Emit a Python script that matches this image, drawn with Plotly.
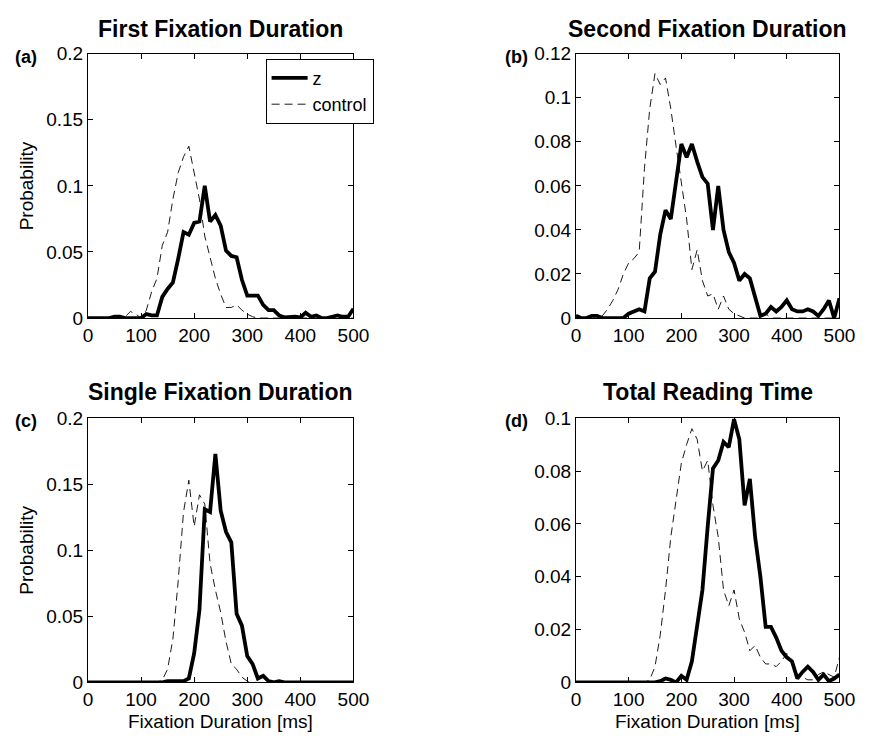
import plotly.graph_objects as go

# ---------------- data ----------------
durations = [0, 10, 20, 30, 40, 50, 60, 70, 80, 90, 100, 110, 120, 130, 140, 150, 160, 170, 180, 190,
             200, 210, 220, 230, 240, 250, 260, 270, 280, 290, 300, 310, 320, 330, 340, 350, 360, 370,
             380, 390, 400, 410, 420, 430, 440, 450, 460, 470, 480, 490, 500]

z_first = [0, 0, 0, 0, 0, 0.001, 0.001, 0, 0, 0, 0, 0.003, 0.002, 0.002, 0.016, 0.022, 0.027, 0.045,
           0.065, 0.063, 0.072, 0.073, 0.1, 0.073, 0.078, 0.07, 0.051, 0.047, 0.046, 0.029, 0.017,
           0.017, 0.017, 0.01, 0.006, 0.006, 0.002, 0.0005, 0.001, 0.001, 0.0005, 0.004, 0.001, 0.002,
           0, 0, 0.001, 0.002, 0.001, 0.001, 0.007]
control_first = [0, 0, 0, 0, 0, 0, 0, 0.001, 0.005, 0.003, 0, 0.006, 0.02, 0.03, 0.055, 0.065, 0.09,
                 0.11, 0.122, 0.13, 0.11, 0.09, 0.062, 0.045, 0.03, 0.018, 0.008, 0.008, 0.01, 0.006,
                 0.003, 0.001, 0, 0, 0, 0, 0, 0, 0, 0, 0, 0, 0, 0, 0, 0, 0, 0, 0, 0, 0]

z_second = [0.001, 0, 0, 0.001, 0.001, 0, 0, 0, 0, 0, 0.002, 0.003, 0.004, 0.003, 0.018, 0.021, 0.038,
            0.049, 0.045, 0.062, 0.079, 0.073, 0.079, 0.071, 0.064, 0.061, 0.04, 0.06, 0.04, 0.03,
            0.025, 0.017, 0.02, 0.018, 0.009, 0.001, 0.002, 0.005, 0.003, 0.005, 0.008, 0.004, 0.003,
            0.003, 0.004, 0.003, 0.001, 0.004, 0.008, 0, 0.009]
control_second = [0, 0, 0, 0, 0, 0.001, 0.004, 0.008, 0.013, 0.02, 0.025, 0.027, 0.03, 0.068, 0.095,
                  0.111, 0.106, 0.109, 0.095, 0.078, 0.062, 0.045, 0.022, 0.031, 0.017, 0.01, 0.011,
                  0.004, 0.01, 0.004, 0.002, 0.001, 0, 0, 0, 0, 0.002, 0, 0, 0, 0, 0, 0, 0, 0, 0, 0,
                  0, 0, 0, 0]

z_single = [0, 0, 0, 0, 0, 0, 0, 0, 0, 0, 0, 0, 0, 0, 0, 0.001, 0.001, 0.001, 0.001, 0.003, 0.022,
            0.055, 0.131, 0.129, 0.173, 0.13, 0.114, 0.106, 0.052, 0.043, 0.02, 0.014, 0.003, 0.005,
            0.001, 0, 0.001, 0, 0, 0, 0, 0, 0, 0, 0, 0, 0, 0, 0, 0, 0]
control_single = [0, 0, 0, 0, 0, 0, 0, 0, 0, 0, 0, 0, 0, 0, 0.002, 0.01, 0.033, 0.077, 0.129, 0.153,
                  0.118, 0.142, 0.135, 0.09, 0.07, 0.053, 0.031, 0.014, 0.01, 0.004, 0.001, 0, 0, 0,
                  0, 0, 0, 0, 0, 0, 0, 0, 0, 0, 0, 0, 0, 0, 0, 0, 0]

z_total = [0, 0, 0, 0, 0, 0, 0, 0, 0, 0, 0, 0, 0, 0, 0, 0, 0.0005, 0.0015, 0.001, 0, 0.0025, 0.001,
           0.008, 0.021, 0.035, 0.059, 0.081, 0.084, 0.091, 0.089, 0.0996, 0.092, 0.067, 0.077, 0.055,
           0.04, 0.021, 0.021, 0.017, 0.012, 0.0095, 0.008, 0.0015, 0.004, 0.006, 0.004, 0.001, 0.003,
           0.0005, 0.0015, 0.003]
control_total = [0, 0, 0, 0, 0, 0, 0, 0, 0, 0, 0, 0, 0, 0, 0.001, 0.006, 0.018, 0.035, 0.055, 0.07,
                 0.083, 0.09, 0.096, 0.092, 0.08, 0.084, 0.067, 0.055, 0.035, 0.029, 0.035, 0.024,
                 0.019, 0.012, 0.014, 0.0095, 0.007, 0.007, 0.006, 0.008, 0.011, 0.007, 0.003, 0.002,
                 0.001, 0.001, 0.003, 0.004, 0.003, 0.002, 0.0095]

titles = ["First Fixation Duration", "Second Fixation Duration",
          "Single Fixation Duration", "Total Reading Time"]
panel_labels = ["(a)", "(b)", "(c)", "(d)"]
y_maxes = [0.2, 0.12, 0.2, 0.1]
y_ticks = [[0, 0.05, 0.1, 0.15, 0.2],
           [0, 0.02, 0.04, 0.06, 0.08, 0.1, 0.12],
           [0, 0.05, 0.1, 0.15, 0.2],
           [0, 0.02, 0.04, 0.06, 0.08, 0.1]]
x_ticks = [0, 100, 200, 300, 400, 500]
series = [(z_first, control_first), (z_second, control_second),
          (z_single, control_single), (z_total, control_total)]

# ---------------- layout geometry (pixels) ----------------
W, H = 874, 744
FONT = "Liberation Sans, Arial, Helvetica, sans-serif"
boxes = [(85, 357, 45, 317), (585, 855, 45, 317), (85, 357, 420, 692), (585, 855, 420, 692)]
title_y = [20, 20, 393, 393]
TICK = 19

fig = go.Figure()
layout = dict(width=W, height=H, margin=dict(l=0, r=0, t=0, b=0),
              paper_bgcolor="white", plot_bgcolor="white",
              font=dict(family=FONT, size=TICK, color="black"),
              showlegend=True)
annotations = []

for i, ((x0, x1, y0, y1), (zv, cv)) in enumerate(zip(boxes, series)):
    n = "" if i == 0 else str(i + 1)
    xa, ya = "x" + n, "y" + n
    fig.add_trace(go.Scatter(x=durations, y=zv, mode="lines", name="z",
                             line=dict(color="black", width=3.8),
                             xaxis=xa, yaxis=ya, showlegend=(i == 0)))
    fig.add_trace(go.Scatter(x=durations, y=cv, mode="lines", name="control",
                             line=dict(color="black", width=0.9, dash="8px,5px"),
                             xaxis=xa, yaxis=ya, showlegend=(i == 0)))
    axcommon = dict(showline=True, linecolor="black", linewidth=1, mirror="ticks",
                    ticks="inside", ticklen=5, tickcolor="black", tickwidth=1,
                    showgrid=False, zeroline=False,
                    tickfont=dict(family=FONT, size=TICK, color="black"))
    layout["xaxis" + n] = dict(axcommon, domain=[x0 / W, x1 / W], anchor=ya,
                               range=[0, 500], tickvals=x_ticks,
                               ticktext=[str(t) for t in x_ticks])
    layout["yaxis" + n] = dict(axcommon, domain=[1 - y1 / H, 1 - y0 / H], anchor=xa,
                               range=[0, y_maxes[i]], tickvals=y_ticks[i],
                               ticktext=[("%g" % t) for t in y_ticks[i]])
    cx = (x0 + x1) / 2
    annotations.append(dict(text="<b>%s</b>" % titles[i], x=cx / W, y=1 - title_y[i] / H,
                            xref="paper", yref="paper", showarrow=False,
                            xanchor="center", yanchor="middle",
                            font=dict(family=FONT, size=23, color="black")))
    lab_x = 8 if x0 < 400 else 510
    annotations.append(dict(text="<b>%s</b>" % panel_labels[i], x=lab_x / W, y=1 - (y0 + 3) / H,
                            xref="paper", yref="paper", showarrow=False,
                            xanchor="left", yanchor="middle",
                            font=dict(family=FONT, size=18, color="black")))
    if x0 < 400:
        annotations.append(dict(text="Probability", x=22 / W, y=1 - ((y0 + y1) / 2) / H,
                                xref="paper", yref="paper", showarrow=False, textangle=-90,
                                xanchor="center", yanchor="middle",
                                font=dict(family=FONT, size=TICK, color="black")))
    if y0 > 300:
        annotations.append(dict(text="Fixation Duration [ms]", x=cx / W, y=1 - 732 / H,
                                xref="paper", yref="paper", showarrow=False,
                                xanchor="center", yanchor="middle",
                                font=dict(family=FONT, size=TICK, color="black")))

layout["annotations"] = annotations
layout["legend"] = dict(x=267 / W, y=1 - 50 / H, xanchor="left", yanchor="top",
                        bgcolor="white", bordercolor="black", borderwidth=1,
                        font=dict(family=FONT, size=18, color="black"),
                        tracegroupgap=0, itemwidth=36)
fig.update_layout(**layout)
fig.write_html("out.html")
